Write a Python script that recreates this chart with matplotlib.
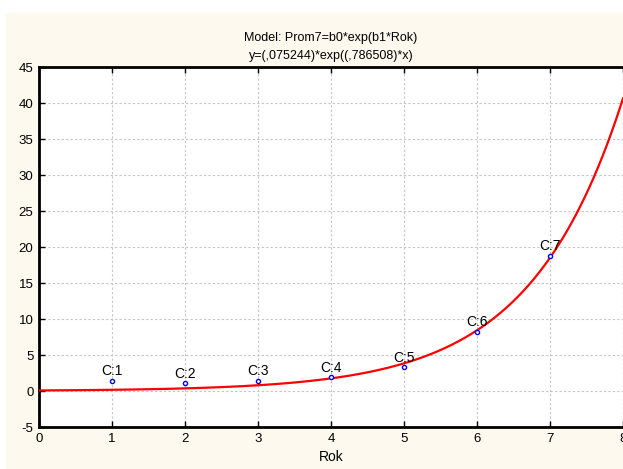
import numpy as np
import matplotlib
matplotlib.use("Agg")
import matplotlib.pyplot as plt
from matplotlib.patches import Rectangle

plt.rcParams['font.family'] = ['Liberation Sans', 'DejaVu Sans']
plt.rcParams['axes.unicode_minus'] = False

# observed cases
rok = [1, 2, 3, 4, 5, 6, 7]
prom7 = [1.43, 1.07, 1.39, 1.9, 3.3, 8.2, 18.8]
case_labels = ["C:1", "C:2", "C:3", "C:4", "C:5", "C:6", "C:7"]

# fitted model parameters
b0 = 0.075244
b1 = 0.786508

x_ticks = [0, 1, 2, 3, 4, 5, 6, 7, 8]
y_ticks = [-5, 0, 5, 10, 15, 20, 25, 30, 35, 40, 45]

W, H = 623, 469
fig = plt.figure(figsize=(W / 100, H / 100), dpi=100)
fig.patch.set_facecolor("white")
fig.patches.append(Rectangle((6 / W, 0), 1, 1 - 13 / H, transform=fig.transFigure,
                             facecolor="#fdf9ee", edgecolor="none", zorder=-10))

ax = fig.add_axes([39 / W, (H - 427) / H, (623 - 39) / W, (427 - 67) / H])
ax.set_facecolor("white")

xs = np.linspace(0, 8, 400)
ax.plot(xs, b0 * np.exp(b1 * xs), color="red", lw=1.6, zorder=3)
ax.plot(rok, prom7, "o", ms=3.0, mfc="white", mec="blue", mew=1.0, zorder=4)
for xv, yv, lab in zip(rok, prom7, case_labels):
    ax.text(xv, yv + 0.35, lab, ha="center", va="bottom", fontsize=10, zorder=5)

ax.set_xlim(0, 8)
ax.set_ylim(-5, 45)
ax.set_xticks(x_ticks)
ax.set_yticks(y_ticks)
ax.tick_params(direction="in", length=4, width=1, labelsize=9.5, pad=4)
ax.tick_params(top=True, right=False)
ax.grid(True, color="#c4c4c4", ls=(0, (2, 2)), lw=0.8)
for s in ["left", "bottom", "top"]:
    ax.spines[s].set_linewidth(2)
ax.spines["right"].set_visible(False)

ax.set_xlabel("Rok", fontsize=10, labelpad=4)
ax.set_title("Model: Prom7=b0*exp(b1*Rok)\ny=(,075244)*exp((,786508)*x)",
             fontsize=9, linespacing=1.6, pad=6)

fig.savefig("out.png", dpi=100, facecolor=fig.get_facecolor())
